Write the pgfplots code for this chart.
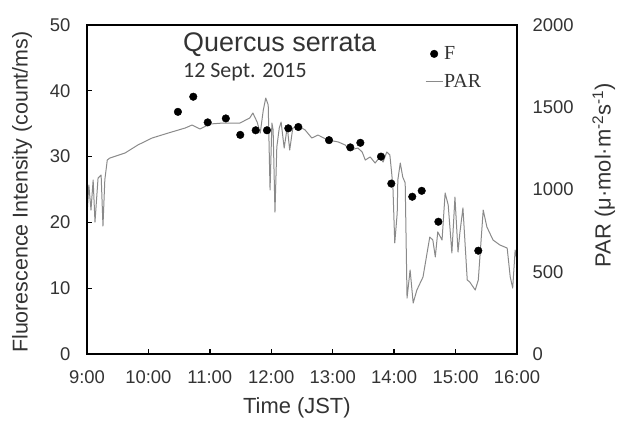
\documentclass[border=0pt]{standalone}
\usepackage{fontspec}
\setmainfont{Liberation Sans}
\newfontfamily\serifleg{Liberation Serif}
\newfontfamily\calib{Carlito}
\usepackage{pgfplots}
\pgfplotsset{compat=1.18}
\definecolor{txt}{HTML}{333333}
\definecolor{parc}{HTML}{8A8A8A}
\begin{document}
\begin{tikzpicture}
\useasboundingbox (0,0) rectangle (619bp,421bp);
% PAR axis (right)
\begin{axis}[
  at={(87bp,67bp)}, anchor=south west,
  width=430bp, height=329bp, scale only axis,
  xmin=9, xmax=16, ymin=0, ymax=2000,
  hide x axis,
  axis y line*=right,
  axis line style={black, line width=1.3bp},
  ytick={0,500,1000,1500,2000},
  major tick length=0pt,
  yticklabel style={anchor=west, xshift=12bp, text=txt, font=\fontsize{18.5}{20}\selectfont},
  /pgf/number format/assume math mode=true,
  /pgf/number format/1000 sep={},
  ylabel={PAR (μ·mol·m\textsuperscript{-2}s\textsuperscript{-1})},
  every axis y label/.style={at={(axis description cs:1.202,0.544)}, rotate=90, anchor=center, text=txt, font=\fontsize{22}{24}\selectfont},
]
\addplot[parc, line width=1bp, line join=round] coordinates {
(9.00,845) (9.03,1027) (9.065,875) (9.10,1058) (9.13,802) (9.18,1070) (9.23,1088) (9.26,778) (9.29,1058) (9.33,1179)
(9.37,1191) (9.62,1222) (9.83,1271) (10.06,1313) (10.32,1343) (10.60,1374) (10.71,1392)
(10.84,1368) (11.00,1398) (11.21,1404) (11.49,1404) (11.65,1435) (11.70,1465) (11.77,1410) (11.82,1343) (11.87,1483)
(11.91,1556) (11.95,1514) (11.98,997) (12.01,1404) (12.03,1362) (12.06,863) (12.09,1258) (12.13,1374) (12.16,1410)
(12.21,1252) (12.26,1380) (12.30,1240) (12.35,1374) (12.47,1380)
(12.55,1362) (12.66,1313) (12.76,1331) (12.92,1301) (13.09,1289) (13.20,1271) (13.28,1240) (13.41,1252) (13.48,1228)
(13.53,1179) (13.61,1198) (13.69,1161) (13.77,1198) (13.82,1167) (13.88,1228) (13.93,1210) (13.96,1100) (13.98,1015)
(14.01,675) (14.05,857) (14.06,1058) (14.10,1161) (14.14,1076) (14.18,1040)
(14.21,340) (14.26,511) (14.31,310) (14.37,389) (14.47,468) (14.58,711) (14.63,693) (14.67,590) (14.71,742) (14.78,693)
(14.83,979) (14.88,906) (14.94,614) (14.99,954) (15.04,620) (15.07,736) (15.12,888) (15.19,450) (15.23,438) (15.32,389)
(15.37,450) (15.45,875) (15.51,772) (15.61,693) (15.72,663) (15.84,644) (15.89,468) (15.93,401) (15.97,632) (16.00,571)
};
\end{axis}
% Fluorescence axis (left)
\begin{axis}[
  at={(87bp,67bp)}, anchor=south west,
  width=430bp, height=329bp, scale only axis,
  xmin=9, xmax=16, ymin=0, ymax=50,
  axis line style={black, line width=1.3bp},
  xtick={9,10,11,12,13,14,15,16},
  xticklabels={9:00,10:00,11:00,12:00,13:00,14:00,15:00,16:00},
  ytick={0,10,20,30,40,50},
  xtick pos=bottom, ytick pos=left,
  tick align=inside,
  major tick length=5bp,
  tick style={black, line width=1.3bp},
  xticklabel style={yshift=-13bp, text=txt, font=\fontsize{18.5}{20}\selectfont},
  yticklabel style={xshift=-13bp, text=txt, font=\fontsize{18.5}{20}\selectfont},
  /pgf/number format/assume math mode=true,
  xlabel={Time (JST)},
  every axis x label/.style={at={(axis description cs:0.488,-0.164)}, anchor=center, text=txt, font=\fontsize{22}{24}\selectfont},
  ylabel={Fluorescence Intensity (count/ms)},
  every axis y label/.style={at={(axis description cs:-0.151,0.492)}, rotate=90, anchor=center, text=txt, font=\fontsize{21.5}{24}\selectfont},
  legend style={draw=none, fill=none, at={(axis description cs:0.786,0.938)}, anchor=north west,
    font=\serifleg\fontsize{20}{22}\selectfont, text=txt, inner sep=0pt, row sep=11bp,
    nodes={inner sep=1bp}},
  legend cell align=left,
]
\addplot[only marks, mark=*, mark size=3.8bp, black] coordinates {
(10.48,36.8) (10.73,39.1) (10.965,35.2) (11.26,35.8) (11.495,33.3) (11.746,34.0) (11.93,34.0) (12.277,34.3) (12.44,34.5)
(12.94,32.5) (13.286,31.4) (13.45,32.1) (13.786,30.0) (13.954,25.9) (14.295,23.9) (14.449,24.8) (14.72,20.1) (15.37,15.7)
};
\addlegendentry{F}
\addlegendimage{parc, line width=1bp}
\addlegendentry{PAR}
\node[anchor=base west, text=txt, font=\fontsize{27}{29}\selectfont, inner sep=0pt] at (axis description cs:0.2233,0.918) {Quercus serrata};
\node[anchor=base west, text=txt, font=\calib\fontsize{22}{24}\selectfont, inner sep=0pt] at (axis description cs:0.2233,0.839) {12 Sept. 2015};
\end{axis}
\end{tikzpicture}
\end{document}
